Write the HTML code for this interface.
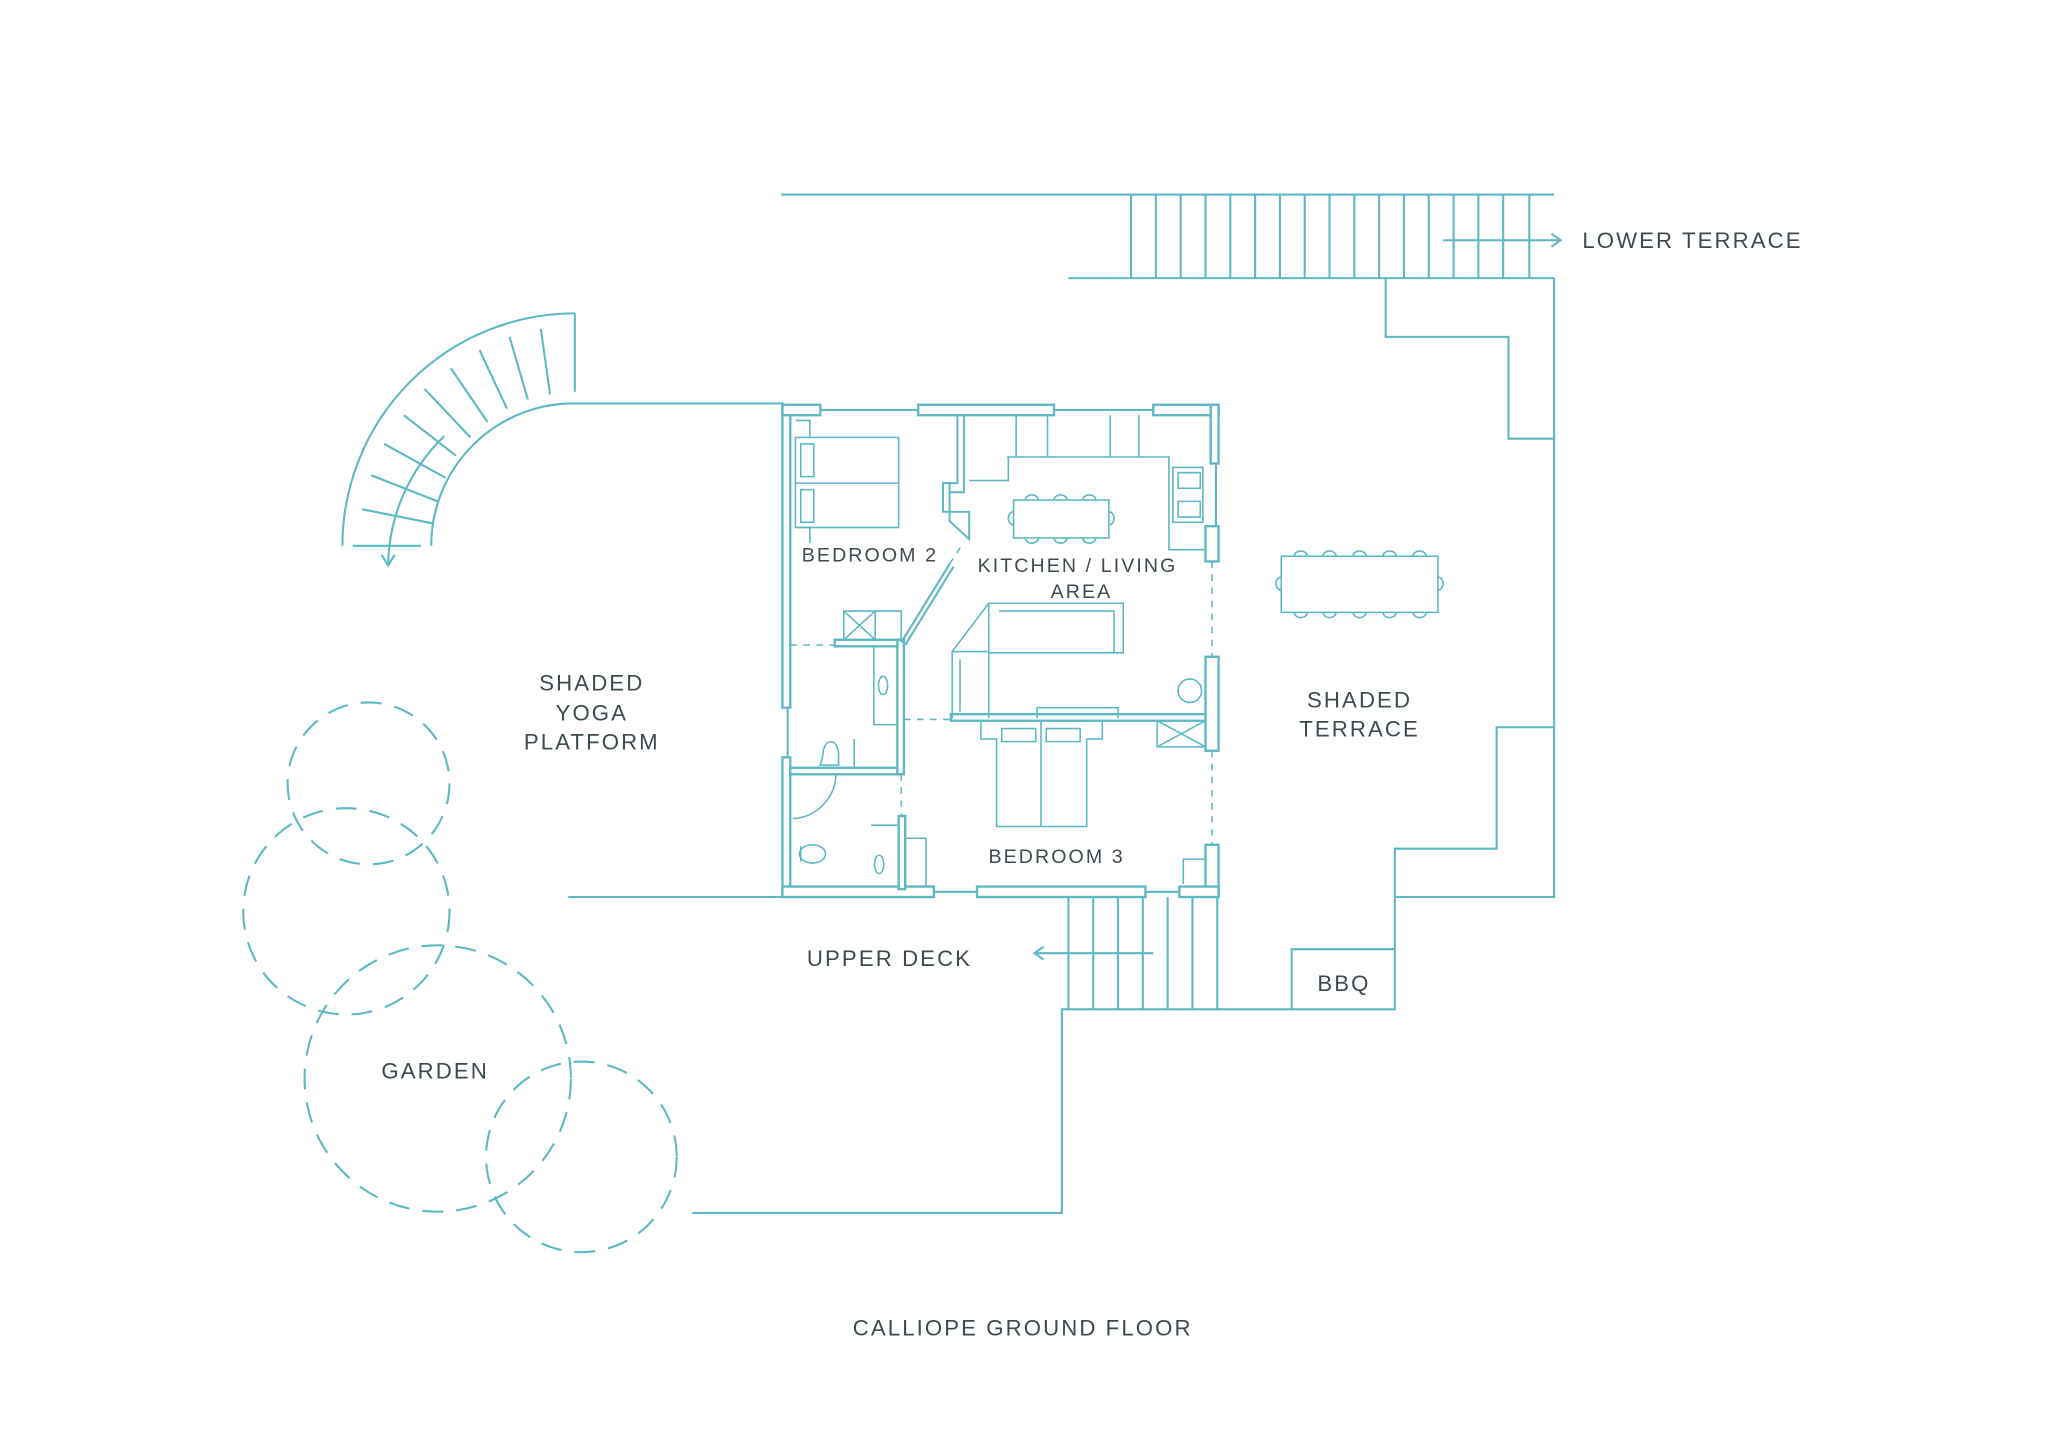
<!DOCTYPE html>
<html><head><meta charset="utf-8"><style>
html,body{margin:0;padding:0;background:#fff;}
svg{display:block;}
text{font-family:"Liberation Sans",sans-serif;fill:#3d4b50;font-size:17px;letter-spacing:1.6px;text-anchor:middle;}
</style></head><body>
<svg width="2048" height="1448" viewBox="0 0 1568 1109" xmlns="http://www.w3.org/2000/svg">
<g fill="none" stroke="#5cb8c3" stroke-width="1.6">
<!-- top stairs -->
<line x1="598" y1="149" x2="1190" y2="149"/>
<line x1="818" y1="213" x2="1190" y2="213"/>
<path d="M866 149V213M885 149V213M904 149V213M923 149V213M942 149V213M961 149V213M980 149V213M999 149V213M1018 149V213M1037 149V213M1056 149V213M1075 149V213M1094 149V213M1113 149V213M1132 149V213M1151 149V213M1171 149V213"/>
<path d="M1105 184H1195M1188 179L1195 184L1188 189"/>
<!-- right outline -->
<path d="M1061 213V258H1155V336H1190M1190 213V687H1068M1190 557H1146V650H1068V773H813V929H530"/>
<path d="M989 773V727H1068"/>
<!-- lower stairs -->
<path d="M818 687V773M837 687V773M856 687V773M875 687V773M894 687V773M913 687V773M932 687V773"/>
<path d="M883 730H792M799 725L792 730L799 735"/>
<!-- deck lines -->
<line x1="435" y1="687" x2="600" y2="687"/>
<line x1="437" y1="309" x2="600" y2="309"/>
<!-- curved stairs -->
<path d="M440 240A178 178 0 0 0 262 418"/>
<path d="M437 309A109 109 0 0 0 330 418"/>
<line x1="440" y1="240" x2="440" y2="300"/>
<line x1="270" y1="418" x2="322" y2="418"/>
<path d="M414 252L421 302M390 258L404 306M367 268L388 313M345 282L373 323M325 298L360 335M309 318L349 349M294 340L341 366M284 364L335 384M277 390L332 401"/>
<path d="M340 334A140 140 0 0 0 297 432M292 425L297 433L302 425"/>
<!-- garden circles -->
<g stroke-dasharray="16 10">
<circle cx="282" cy="600" r="62"/>
<circle cx="265" cy="698" r="79"/>
<circle cx="335" cy="826" r="102"/>
<circle cx="445" cy="886" r="73"/>
</g>
<!-- house walls -->
<g fill="#fff" stroke-width="1.8">
<rect x="599" y="310" width="6" height="232"/>
<rect x="599" y="580" width="6" height="107"/>
<rect x="599" y="310" width="29" height="8"/>
<rect x="703" y="310" width="104" height="8"/>
<rect x="883" y="310" width="50" height="8"/>
<rect x="927" y="310" width="6" height="45"/>
<rect x="923" y="403" width="10" height="27"/>
<rect x="923" y="503" width="10" height="72"/>
<rect x="923" y="647" width="10" height="40"/>
<rect x="599" y="679" width="116" height="8"/>
<rect x="748" y="679" width="129" height="8"/>
<rect x="903" y="679" width="30" height="8"/>
<rect x="728" y="547" width="195" height="5"/>
<rect x="639" y="490" width="50" height="5"/>
<rect x="605" y="588" width="85" height="5"/>
<rect x="687" y="490" width="5" height="103"/>
<rect x="688" y="625" width="5" height="56"/>
</g>
<path d="M733 318V370H722V392H742V413L727 399V370M738 318V377H727V395" stroke-width="1.5"/>
<path d="M727 432L690 492M730 434L693 494"/>
<path d="M628 314H703M807 314H883M931 355V403M603 542V580M715 683H748M877 683H903"/>
<g stroke-dasharray="5 5" stroke-width="1.2">
<path d="M605 494H639M692 551H728M928 430V503M928 575V647M690 593V625M727 432L738 415"/>
</g>
<!-- bedroom 2 bed -->
<g stroke-width="1.2">
<rect x="609" y="335" width="79" height="69"/>
<line x1="609" y1="370" x2="688" y2="370"/>
<rect x="613" y="340" width="10" height="25"/>
<rect x="613" y="375" width="10" height="25"/>
<path d="M609 322H620V335M609 404H620V416"/>
<path d="M646 468H670V490H646ZM646 468L670 490M670 468L646 490M670 468H690V490"/>
<path d="M669 494V555H687M676 518a3.5 7 0 1 0 0.1 0"/>
<path d="M654 566V588M628 586H642V578A6 10 0 0 0 630 578Z"/>
<path d="M640 593A35 35 0 0 1 607 627M612 654A10 7 0 0 1 632 654A10 7 0 0 1 612 654Z M613 648V660"/>
<path d="M667 632H688V680M673 655a3.5 7 0 1 0 0.1 0M693 642H709V679"/>
<!-- kitchen -->
<path d="M778 318V350M802 318V350M850 318V350M872 318V350M771 350H895V421H923M772 350V368H742"/>
<path d="M898 358H921V400H898ZM902 362H919V374H902ZM902 384H919V396H902Z"/>
<rect x="776" y="383" width="73" height="29"/>
<path d="M785 383a5 4 0 0 1 10 0M807 383a5 4 0 0 1 10 0M829 383a5 4 0 0 1 10 0M785 412a5 4 0 0 0 10 0M807 412a5 4 0 0 0 10 0M829 412a5 4 0 0 0 10 0M776 392a4 5 0 0 0 0 10M849 392a4 5 0 0 1 0 10"/>
<!-- sofa -->
<path d="M729 550V499L757 462H860V500H757V462M757 462V468M729 499H757V550M735 505V545M757 500V550M765 468H853V500M794 550V542H856V550"/>
<circle cx="911" cy="529" r="9"/>
<!-- bedroom 3 -->
<path d="M751 552V566H763V633H832V566H844V552M797 552V633M767 558H793V568H767ZM801 558H827V568H801Z"/>
<path d="M886 552H923V572H886ZM886 552L923 572M923 552L886 572"/>
<path d="M906 677V658H923"/>
<!-- terrace table -->
<rect x="981" y="426" width="120" height="43"/>
<path d="M991 426a5 4 0 0 1 10 0M1013 426a5 4 0 0 1 10 0M1036 426a5 4 0 0 1 10 0M1059 426a5 4 0 0 1 10 0M1082 426a5 4 0 0 1 10 0M991 469a5 4 0 0 0 10 0M1013 469a5 4 0 0 0 10 0M1036 469a5 4 0 0 0 10 0M1059 469a5 4 0 0 0 10 0M1082 469a5 4 0 0 0 10 0M981 442a4 5 0 0 0 0 10M1101 442a4 5 0 0 1 0 10"/>
</g>
</g>
<text x="1296" y="190" text-anchor="middle">LOWER TERRACE</text>
<text x="453" y="529">SHADED</text>
<text x="453" y="552">YOGA</text>
<text x="453" y="574">PLATFORM</text>
<text x="1041" y="542">SHADED</text>
<text x="1041" y="564">TERRACE</text>
<text x="666" y="430" style="font-size:15px">BEDROOM 2</text>
<text x="825" y="438" style="font-size:15px">KITCHEN / LIVING</text>
<text x="828" y="458" style="font-size:15px">AREA</text>
<text x="809" y="661" style="font-size:15px">BEDROOM 3</text>
<text x="681" y="740">UPPER DECK</text>
<text x="1029" y="759">BBQ</text>
<text x="333" y="826">GARDEN</text>
<text x="783" y="1023">CALLIOPE GROUND FLOOR</text>
</svg>
</body></html>
